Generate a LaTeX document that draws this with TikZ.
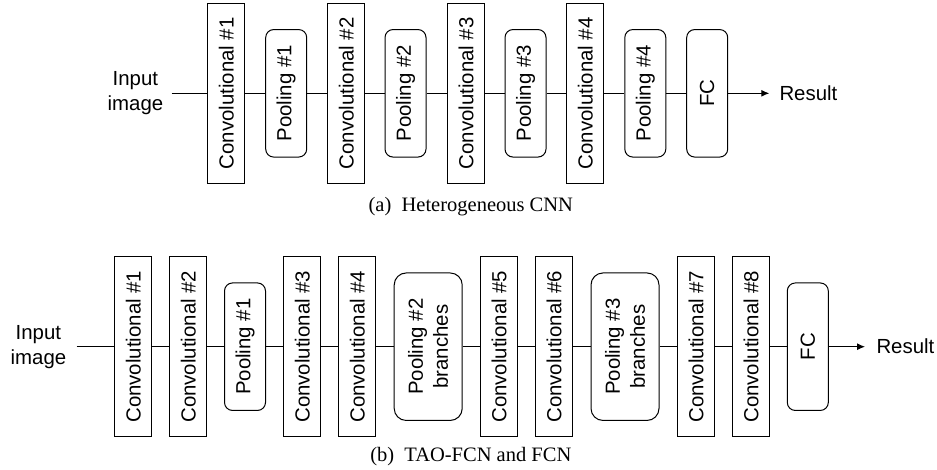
\documentclass[tikz,border=0pt]{standalone}
\usepackage{fontspec}
\setmainfont{Liberation Sans}
\newfontfamily\capfont{Liberation Serif}
\usetikzlibrary{arrows.meta}
\newcommand{\clrline}{black}

\begin{document}
\begin{tikzpicture}[x=1pt, y=-1pt, line width=1pt,
        font=\fontsize{20.4}{25}\selectfont,
        conv/.style={draw, \clrline, rotate=90, minimum width=180pt, minimum height=37pt, inner sep=0pt},
        pool/.style={draw, \clrline, rotate=90, rounded corners=8pt, minimum width=127.5pt, minimum height=41pt, inner sep=0pt},
        branch/.style={draw, \clrline, rotate=90, rounded corners=12pt, minimum width=147.5pt, minimum height=68pt, inner sep=0pt, align=center},
        io/.style={align=center, inner sep=0pt},
        caption/.style={font=\capfont\fontsize{20.5}{24}\selectfont}]
    \useasboundingbox (0,0) rectangle (937,469);

    %(a) top row
        %convolutional layers
        \foreach \i/\x in {1/226.3, 2/346.3, 3/466.2, 4/585.3} {
            \node[conv] (ac\i) at (\x,93.3) {Convolutional \#\i};
        }
        %pooling layers
        \foreach \i/\x in {1/286.2, 2/405.5, 3/525.5, 4/645.3} {
            \node[pool] (ap\i) at (\x,93.3) {Pooling \#\i};
        }
        \node[pool] (afc) at (707.2,93.3) {FC};
        \node[io, anchor=east, inner xsep=8pt] (ain) at (171.7,93.3) {Input\\image};
        \node[io, anchor=west, inner xsep=9.7pt] (ares) at (769.3,93.3) {Result};
        %links
        \draw[\clrline] (ain) -- (ac1);
        \foreach \i in {1,...,4} {
            \draw[\clrline] (ac\i) -- (ap\i);
        }
        \foreach \i/\j in {1/2, 2/3, 3/4} {
            \draw[\clrline] (ap\i) -- (ac\j);
        }
        \draw[\clrline] (ap4) -- (afc);
        \draw[\clrline, -{Latex[length=8pt,width=7pt]}] (afc) -- (ares);
        \node[caption] (capa) at (470.8,207) {(a)\ \ Heterogeneous CNN};

    %(b) bottom row
        %convolutional layers
        \foreach \i/\x in {1/133.3, 2/188.3, 3/302.3, 4/357.3, 5/499.2, 6/554, 7/696, 8/751} {
            \node[conv] (bc\i) at (\x,346.7) {Convolutional \#\i};
        }
        %pooling layers
        \node[pool] (bp1) at (245,346.7) {Pooling \#1};
        \node[branch] (bp2) at (428.2,346.7) {Pooling \#2\\branches};
        \node[branch] (bp3) at (625,346.7) {Pooling \#3\\branches};
        \node[pool] (bfc) at (807.8,346.7) {FC};
        \node[io, anchor=east, inner xsep=10pt] (bin) at (76.7,346.7) {Input\\image};
        \node[io, anchor=west, inner xsep=11pt] (bres) at (865,346.7) {Result};
        %links
        \foreach \a/\b in {bin/bc1, bc1/bc2, bc2/bp1, bp1/bc3, bc3/bc4, bc4/bp2,
                bp2/bc5, bc5/bc6, bc6/bp3, bp3/bc7, bc7/bc8, bc8/bfc} {
            \draw[\clrline] (\a) -- (\b);
        }
        \draw[\clrline, -{Latex[length=8pt,width=7pt]}] (bfc) -- (bres);
        \node[caption] (capb) at (470.8,456.7) {(b)\ \ TAO-FCN and FCN};
\end{tikzpicture}
\end{document}
